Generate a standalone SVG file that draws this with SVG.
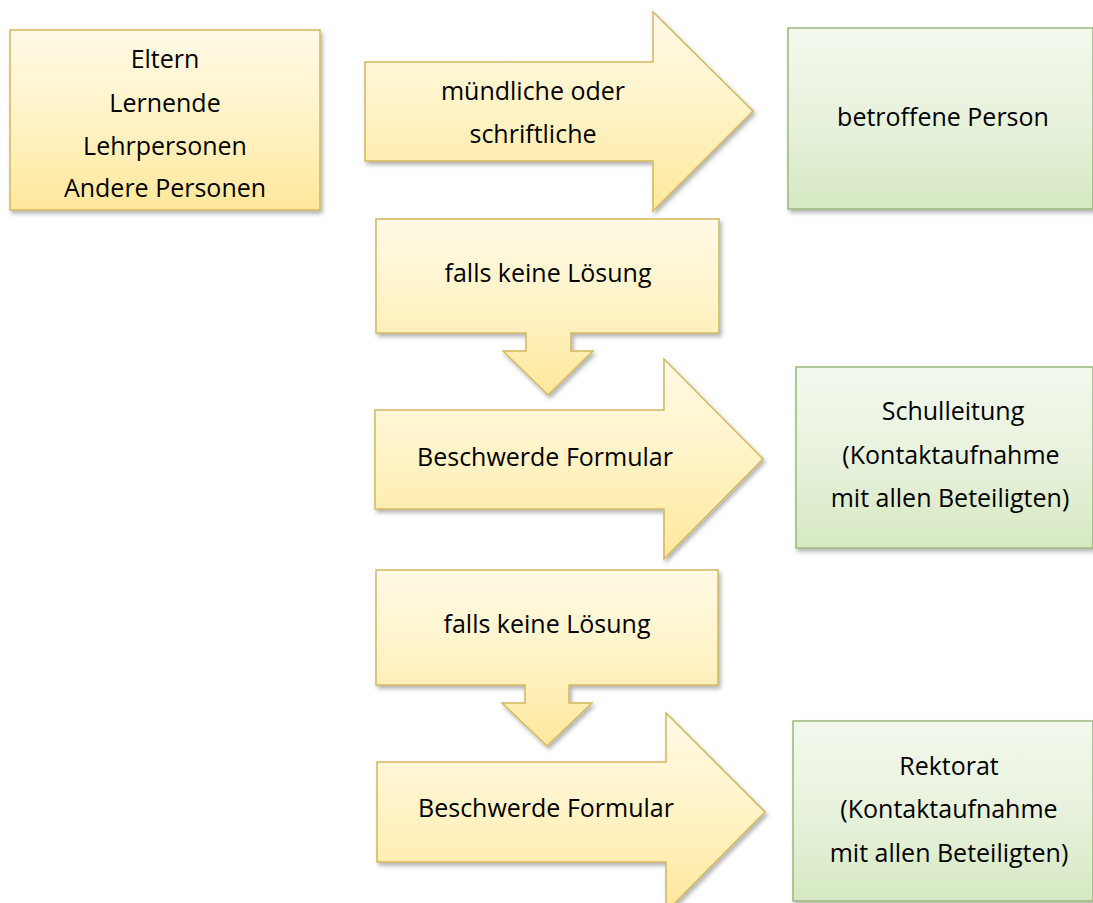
<svg xmlns="http://www.w3.org/2000/svg" width="1093" height="903" viewBox="0 0 1093 903">
<defs>
<linearGradient id="gY" x1="0" y1="0" x2="0" y2="1">
<stop offset="0" stop-color="#FFFAE6"/>
<stop offset="0.5" stop-color="#FFF3C6"/>
<stop offset="1" stop-color="#FFE89C"/>
</linearGradient>
<linearGradient id="gG" x1="0" y1="0" x2="0" y2="1">
<stop offset="0" stop-color="#F3F8ED"/>
<stop offset="0.5" stop-color="#E8F2DD"/>
<stop offset="1" stop-color="#D6E8C2"/>
</linearGradient>
<filter id="sh" x="-10%" y="-10%" width="120%" height="125%">
<feDropShadow dx="2" dy="3" stdDeviation="2" flood-color="#000" flood-opacity="0.3"/>
</filter>
<style>
.y{fill:url(#gY);stroke:#D4B75E;stroke-width:1.5;filter:url(#sh)}
.g{fill:url(#gG);stroke:#9CB67E;stroke-width:1.5;filter:url(#sh)}
.t{font-family:"Open Sans","Liberation Sans",sans-serif;font-size:25px;fill:#000;text-anchor:middle}
</style>
</defs>
<rect width="1093" height="903" fill="#fff"/>

<g id="connectors">
<g id="arrow1">
<path class="y" d="M365,62 H653 V12 L753,111 L653,211 V161 H365 Z"/>
<text class="t" x="533" y="100">mündliche oder</text>
<text class="t" x="533" y="143">schriftliche</text>
</g>
<g id="down1">
<path class="y" d="M376,219 H719 V333 H571 V351 H593 L548,395 L503,351 H526 V333 H376 Z"/>
<text class="t" x="548" y="282">falls keine Lösung</text>
</g>
<g id="arrow2">
<path class="y" d="M375,410 H664 V359 L763,459 L664,559 V509 H375 Z"/>
<text class="t" x="545" y="466">Beschwerde Formular</text>
</g>
<g id="down2">
<path class="y" d="M376,570 H718 V685 H569 V703 H592 L547,746 L502,703 H525 V685 H376 Z"/>
<text class="t" x="547" y="633">falls keine Lösung</text>
</g>
<g id="arrow3">
<path class="y" d="M377,762 H666 V713 L765,812 L666,912 V862 H377 Z"/>
<text class="t" x="546" y="817">Beschwerde Formular</text>
</g>
</g>

<g id="sources">
<rect class="y" x="10" y="30" width="310" height="180"/>
<text class="t" x="165" y="68">Eltern</text>
<text class="t" x="165" y="112">Lernende</text>
<text class="t" x="165" y="155">Lehrpersonen</text>
<text class="t" x="165" y="197">Andere Personen</text>
</g>

<g id="betroffene">
<rect class="g" x="788" y="28" width="305" height="181"/>
<text class="t" x="943" y="126">betroffene Person</text>
</g>

<g id="schulleitung">
<rect class="g" x="796" y="367" width="297" height="181"/>
<text class="t" x="953" y="420">Schulleitung</text>
<text class="t" x="951" y="464">(Kontaktaufnahme</text>
<text class="t" x="950" y="507">mit allen Beteiligten)</text>
</g>

<g id="rektorat">
<rect class="g" x="793" y="721" width="300" height="180"/>
<text class="t" x="949" y="775">Rektorat</text>
<text class="t" x="949" y="818">(Kontaktaufnahme</text>
<text class="t" x="949" y="862">mit allen Beteiligten)</text>
</g>
</svg>
